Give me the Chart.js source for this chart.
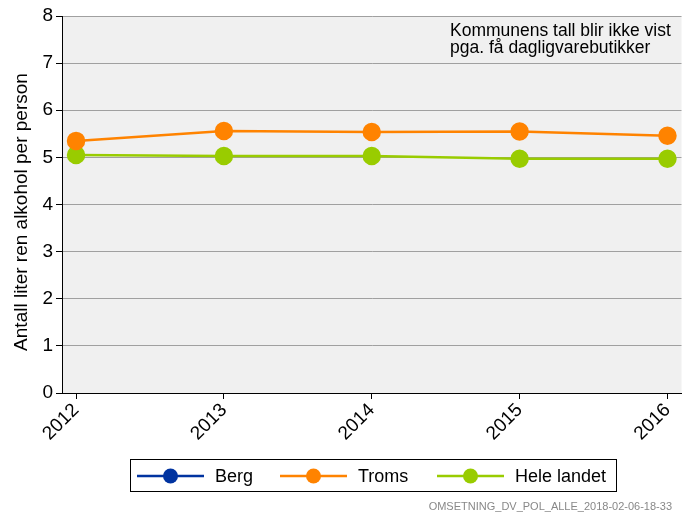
<!DOCTYPE html>
<html>
<head>
<meta charset="utf-8">
<script src="https://cdn.jsdelivr.net/npm/chart.js@4/dist/chart.umd.min.js"></script>
<style>
  html, body { margin: 0; padding: 0; background: #fff; }
  #wrap { width: 692px; height: 514px; }
</style>
</head>
<body>
<div id="wrap"><canvas id="lineChart"></canvas></div>
<script>
// Årstall og verdier (liter ren alkohol per person)
var years = [2012, 2013, 2014, 2015, 2016];
var berg = [null, null, null, null, null];
var troms = [5.35, 5.56, 5.54, 5.55, 5.46];
var heleLandet = [5.05, 5.03, 5.03, 4.97, 4.97];
var yTicks = [0, 1, 2, 3, 4, 5, 6, 7, 8];

var farger = { berg: '#0033a0', troms: '#ff8300', hele: '#99cc00' };

function tilPunkter(verdier) {
    return years.map(function (y, i) { return { x: y, y: verdier[i] }; });
}

function serie(navn, verdier, farge) {
    return {
        label: navn,
        data: tilPunkter(verdier),
        borderColor: farge,
        backgroundColor: farge,
        pointBackgroundColor: farge,
        pointBorderColor: farge,
        borderWidth: 2.5,
        pointRadius: 8,
        pointHoverRadius: 8,
        tension: 0
    };
}

var font = 'Arial, "Liberation Sans", sans-serif';

// Bakgrunn, aksetittel, merknad, forklaring og kildetekst
var tegnPlugin = {
    id: 'tegnPlugin',
    beforeDraw: function (chart) {
        var c = chart.ctx, a = chart.chartArea;
        c.save();
        c.fillStyle = '#f0f0f0';
        c.fillRect(a.left, a.top, a.right - a.left, a.bottom - a.top);
        c.restore();
    },
    afterDraw: function (chart) {
        var c = chart.ctx;
        c.save();
        // y-aksetittel
        c.save();
        c.translate(22, 212);
        c.rotate(-Math.PI / 2);
        c.fillStyle = '#000';
        c.font = '19px ' + font;
        c.textAlign = 'center';
        c.textBaseline = 'middle';
        c.fillText('Antall liter ren alkohol per person', 0, 0);
        c.restore();

        // merknad
        c.fillStyle = '#000';
        c.font = '17.5px ' + font;
        c.textBaseline = 'alphabetic';
        c.textAlign = 'left';
        c.fillText('Kommunens tall blir ikke vist', 450, 36);
        c.fillText('pga. få dagligvarebutikker', 450, 53);

        // forklaring
        c.strokeStyle = '#000';
        c.lineWidth = 1;
        c.strokeRect(130.5, 459.5, 486, 32);
        var items = [
            { navn: 'Berg', farge: farger.berg, x: 137 },
            { navn: 'Troms', farge: farger.troms, x: 280 },
            { navn: 'Hele landet', farge: farger.hele, x: 437 }
        ];
        items.forEach(function (it) {
            var yy = 476;
            c.strokeStyle = it.farge;
            c.lineWidth = 2.5;
            c.beginPath();
            c.moveTo(it.x, yy);
            c.lineTo(it.x + 67, yy);
            c.stroke();
            c.fillStyle = it.farge;
            c.beginPath();
            c.arc(it.x + 33.5, yy, 7.5, 0, Math.PI * 2);
            c.fill();
            c.fillStyle = '#000';
            c.font = '18px ' + font;
            c.textBaseline = 'middle';
            c.fillText(it.navn, it.x + 78, yy + 1);
        });

        // kildetekst
        c.fillStyle = '#888';
        c.font = '11px ' + font;
        c.textAlign = 'right';
        c.textBaseline = 'alphabetic';
        c.fillText('OMSETNING_DV_POL_ALLE_2018-02-06-18-33', 672, 510);
        c.restore();
    }
};

var ctx = document.getElementById('lineChart').getContext('2d');
var chart = new Chart(ctx, {
    type: 'line',
    data: {
        datasets: [
            serie('Berg', berg, farger.berg),
            serie('Troms', troms, farger.troms),
            serie('Hele landet', heleLandet, farger.hele)
        ]
    },
    options: {
        responsive: true,
        maintainAspectRatio: false,
        animation: false,
        layout: { padding: { top: 16, right: 8, left: 0, bottom: 0 } },
        plugins: {
            legend: { display: false },
            tooltip: { enabled: false }
        },
        scales: {
            x: {
                type: 'linear',
                min: 2011.905,
                max: 2016.095,
                afterBuildTicks: function (scale) {
                    scale.ticks = years.map(function (v) { return { value: v }; });
                },
                afterFit: function (scale) { scale.height = 121; },
                grid: { drawOnChartArea: false, drawTicks: true, tickLength: 6, color: '#000' },
                border: { color: '#000', width: 1 },
                ticks: {
                    color: '#000',
                    font: { size: 19, family: font },
                    maxRotation: 45,
                    minRotation: 45,
                    padding: 0,
                    callback: function (v) { return String(v); }
                }
            },
            y: {
                min: 0,
                max: 8,
                afterBuildTicks: function (scale) {
                    scale.ticks = yTicks.map(function (v) { return { value: v }; });
                },
                afterFit: function (scale) { scale.width = 62; },
                grid: { color: '#a0a0a0', lineWidth: 1, tickLength: 6, tickColor: '#000' },
                border: { color: '#000', width: 1 },
                ticks: {
                    color: '#000',
                    font: { size: 19, family: font },
                    padding: 3
                }
            }
        }
    },
    plugins: [tegnPlugin]
});
</script>
</body>
</html>
